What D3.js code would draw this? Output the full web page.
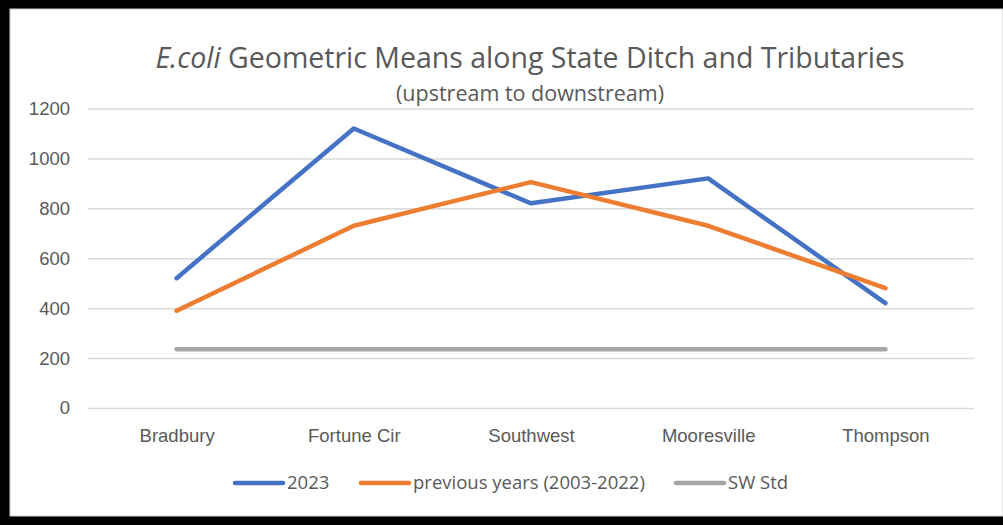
<!DOCTYPE html>
<html>
<head>
<meta charset="utf-8">
<script src="https://cdn.jsdelivr.net/npm/d3@7"></script>
<style>
  body { margin: 0; background: #fff; }
  svg { display: block; font-family: "Open Sans", "Noto Sans", sans-serif; }
</style>
</head>
<body>
<svg id="chart" width="1003" height="525"></svg>
<script>
const sites = ["Bradbury", "Fortune Cir", "Southwest", "Mooresville", "Thompson"];
const values2023 = [520, 1120, 820, 920, 420];
const valuesPrevious = [390, 730, 905, 730, 480];
const valuesStd = [235, 235, 235, 235, 235];
const yTicks = [0, 200, 400, 600, 800, 1000, 1200];

const series = [
    { name: "2023", values: values2023, color: "#4472C4" },
    { name: "previous years (2003-2022)", values: valuesPrevious, color: "#ED7D31" },
    { name: "SW Std", values: valuesStd, color: "#A5A5A5" },
];

const WIDTH = 1003;
const HEIGHT = 525;
const PLOT_LEFT = 88;
const PLOT_RIGHT = 974;
const PLOT_TOP = 108.5;
const PLOT_BOTTOM = 408;
const LABEL_GREY = "#595959";

const svg = d3.select("#chart");

// black frame around the picture (no right edge)
svg.append("rect").attr("width", WIDTH).attr("height", HEIGHT).attr("fill", "#000");
svg.append("rect")
    .attr("x", 10).attr("y", 9)
    .attr("width", WIDTH - 10).attr("height", 507)
    .attr("fill", "#fff")
    .attr("stroke", "#d0d0d0").attr("stroke-width", 1);

const x = d3.scalePoint()
    .domain(sites)
    .range([PLOT_LEFT, PLOT_RIGHT])
    .padding(0.5);

const y = d3.scaleLinear()
    .domain([0, 1200])
    .range([PLOT_BOTTOM, PLOT_TOP]);

// y axis with gridlines
const yAxis = svg.append("g")
    .attr("transform", `translate(${PLOT_LEFT},0)`)
    .call(d3.axisLeft(y)
        .tickValues(yTicks)
        .tickFormat(d3.format("d"))
        .tickSize(-(PLOT_RIGHT - PLOT_LEFT))
        .tickPadding(18));
yAxis.select(".domain").remove();
yAxis.selectAll(".tick line").attr("stroke", "#d9d9d9").attr("stroke-width", 1.5);
yAxis.selectAll(".tick text")
    .attr("fill", LABEL_GREY)
    .style("font-size", "18.5px");

// x axis labels
const xAxis = svg.append("g")
    .attr("transform", `translate(0,${PLOT_BOTTOM})`)
    .call(d3.axisBottom(x).tickSize(0).tickPadding(21));
xAxis.select(".domain").remove();
xAxis.selectAll(".tick text")
    .attr("fill", LABEL_GREY)
    .style("font-size", "18.5px");

// lines
const line = d3.line()
    .x((d, i) => x(sites[i]))
    .y((d) => y(d));

svg.selectAll(".series")
    .data(series)
    .enter()
    .append("path")
    .attr("class", "series")
    .attr("d", (d) => line(d.values))
    .attr("fill", "none")
    .attr("stroke", (d) => d.color)
    .attr("stroke-width", 4.5)
    .attr("stroke-linecap", "round")
    .attr("stroke-linejoin", "round");

// title
const title = svg.append("text")
    .attr("x", 530)
    .attr("y", 68)
    .attr("text-anchor", "middle")
    .attr("fill", LABEL_GREY)
    .style("font-size", "28.5px");
title.append("tspan").style("font-style", "italic").text("E.coli");
title.append("tspan").text(" Geometric Means along State Ditch and Tributaries");

svg.append("text")
    .attr("x", 530)
    .attr("y", 101)
    .attr("text-anchor", "middle")
    .attr("fill", LABEL_GREY)
    .style("font-size", "21.5px")
    .text("(upstream to downstream)");

// legend
const legendX = [235, 361, 676];
const legend = svg.selectAll(".legend")
    .data(series)
    .enter()
    .append("g")
    .attr("class", "legend")
    .attr("transform", (d, i) => `translate(${legendX[i]},483)`);
legend.append("line")
    .attr("x1", 0).attr("x2", 48)
    .attr("stroke", (d) => d.color)
    .attr("stroke-width", 4.5)
    .attr("stroke-linecap", "round");
legend.append("text")
    .attr("x", 52)
    .attr("dy", "0.35em")
    .attr("fill", LABEL_GREY)
    .style("font-size", "18.5px")
    .text((d) => d.name);
</script>
</body>
</html>
